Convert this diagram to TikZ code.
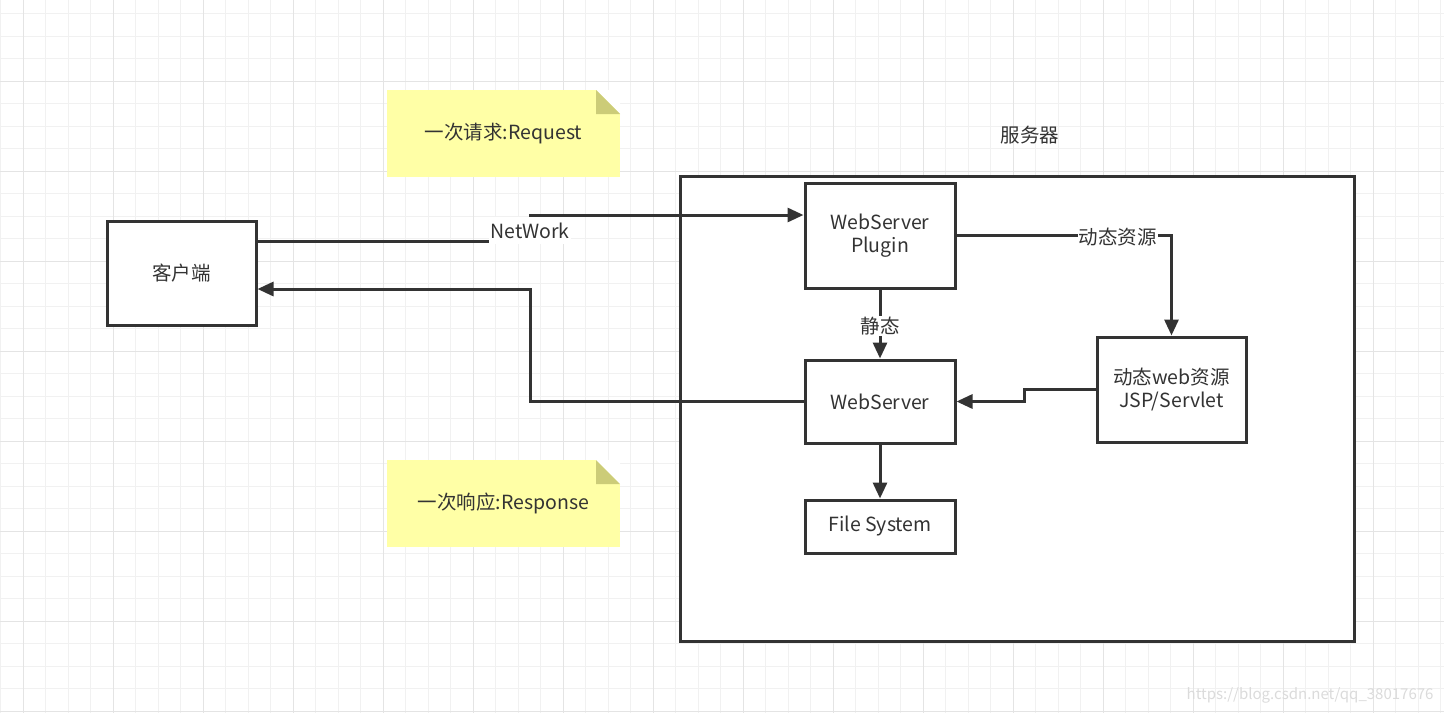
\documentclass[tikz,border=0pt]{standalone}
\usepackage{fontspec}
\setmainfont{Noto Sans CJK SC}
\usetikzlibrary{arrows.meta}

\definecolor{ink}{HTML}{333333}
\definecolor{gridminor}{HTML}{F1F1F1}
\definecolor{gridmajor}{HTML}{E4E4E4}
\definecolor{notefill}{HTML}{FFFFA6}
\definecolor{notefold}{HTML}{CCCC78}

\tikzset{
  box/.style={draw=ink, line width=3pt, fill=white, text=ink, align=center, inner sep=0pt},
  flow/.style={draw=ink, line width=3pt, -{Triangle[length=16pt,width=14pt]}},
  edgelabel/.style={fill=white, text=ink, inner xsep=1pt, inner ysep=1pt},
  note/.style={fill=notefill, text=ink, minimum width=233pt, minimum height=87pt,
    path picture={
      \fill[white] ([xshift=-24pt]path picture bounding box.north east)
        -- (path picture bounding box.north east)
        -- ([yshift=-24pt]path picture bounding box.north east) -- cycle;
      \fill[notefold] ([xshift=-24pt]path picture bounding box.north east)
        -- ([xshift=-24pt,yshift=-24pt]path picture bounding box.north east)
        -- ([yshift=-24pt]path picture bounding box.north east) -- cycle;
    }},
}

\begin{document}
\begin{tikzpicture}[x=1pt, y=-1pt, font=\fontsize{19.5}{23.5}\selectfont]
  \useasboundingbox (0,0) rectangle (1444,713);
  \fill[white] (0,0) rectangle (1444,713);

  % grid
  \foreach \x in {0.5,23,...,1444} \draw[gridminor, line width=1pt] (\x,0) -- (\x,713);
  \foreach \y in {13.5,36,...,713} \draw[gridminor, line width=1pt] (0,\y) -- (1444,\y);
  \foreach \x in {23,113,...,1444} \draw[gridmajor, line width=1pt] (\x,0) -- (\x,713);
  \foreach \y in {81,171,...,713} \draw[gridmajor, line width=1pt] (0,\y) -- (1444,\y);

  % server
  \node[box, minimum width=674pt, minimum height=465pt] (server) at (1017,408.5) {};
  \node[text=ink] (srvlabel) at (1030,135) {服务器};

  % notes
  \node[note] (reqnote) at (503.5,133.5) {一次请求:Request};
  \node[note] (respnote) at (503.5,503.5) {一次响应:Response};

  % boxes
  \node[box, minimum width=149pt, minimum height=104pt] (client) at (181.5,273) {客户端};
  \node[box, minimum width=150pt, minimum height=105pt] (plugin) at (880,235.5) {WebServer\\Plugin};
  \node[box, minimum width=150pt, minimum height=83pt] (websrv) at (880,401.5) {WebServer};
  \node[box, minimum width=150pt, minimum height=53pt] (fs) at (880,526.5) {File System};
  \node[box, minimum width=149pt, minimum height=105pt] (dyn) at (1171.5,389.5) {动态web资源\\JSP/Servlet};

  % connectors
  \draw[flow] ([yshift=32pt]client.east) -- (530,241) -- (530,215)
    node[midway, edgelabel, minimum height=27pt, yshift=-2.5pt] {NetWork} -- ([yshift=20.5pt]plugin.west);
  \draw[flow] (websrv.west) -| (530,289) -- ([yshift=-16pt]client.east);
  \draw[flow] (plugin.east) -| (dyn.north) node[pos=0.375, edgelabel, yshift=-2pt] {动态资源};
  \draw[flow] (plugin.south) -- (websrv.north) node[midway, edgelabel, yshift=-2pt] {静态};
  \draw[flow] (dyn.west) -- ++(-71,0) |- (websrv.east);
  \draw[flow] (websrv.south) -- (fs.north);

  \node[anchor=east, text=gray!28, font=\fontsize{15}{15}\selectfont] (mark) at (1437,695) {https://blog.csdn.net/qq\_38017676};
\end{tikzpicture}
\end{document}
